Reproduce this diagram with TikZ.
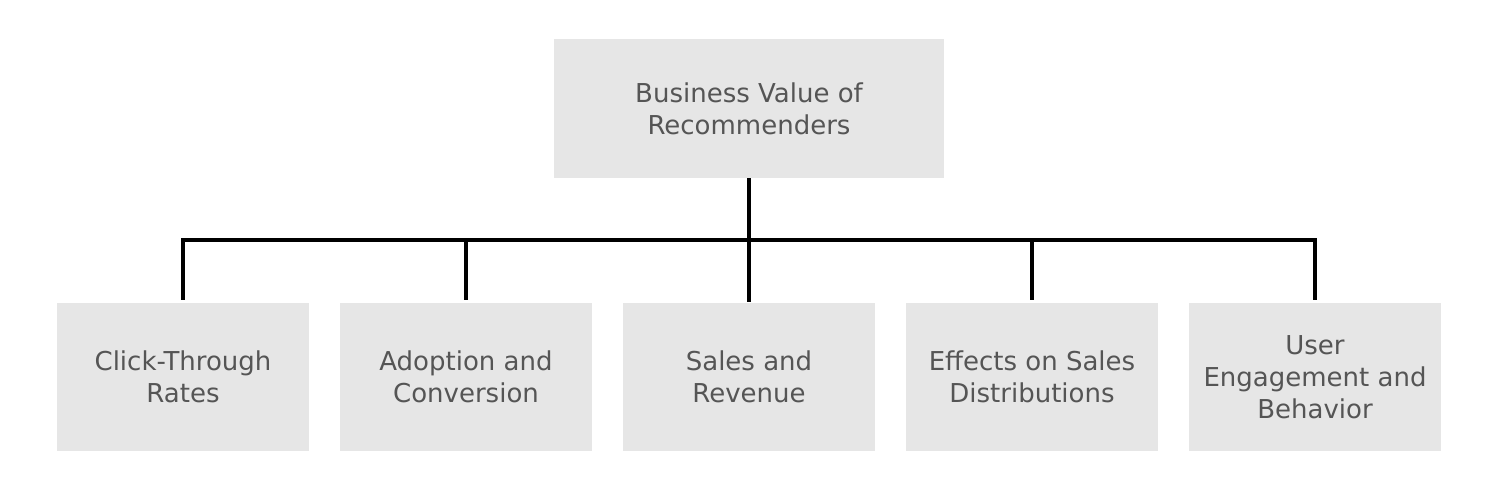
\documentclass[tikz,border=0pt]{standalone}
\usepackage{fontspec}
\setmainfont{DejaVu Sans}
\definecolor{boxgray}{HTML}{E6E6E6}
\definecolor{txtgray}{HTML}{555555}
\begin{document}
\begin{tikzpicture}[x=1pt,y=-1pt,
  box/.style={rectangle, fill=boxgray, draw=none, inner sep=0pt, align=center,
    text=txtgray, font=\fontsize{26}{32}\selectfont},
  rootbox/.style={box, minimum width=390pt, minimum height=139pt},
  leafbox/.style={box, minimum width=252pt, minimum height=148pt},
  conn/.style={line width=4pt, black, line join=miter, line cap=butt}]
\useasboundingbox (0,0) rectangle (1504,484);
\node[rootbox] (root) at (749,108.5) {Business Value of\\Recommenders};
\node[leafbox] (c1) at (183,377) {Click-Through\\Rates};
\node[leafbox] (c2) at (466,377) {Adoption and\\Conversion};
\node[leafbox] (c3) at (749,377) {Sales and\\Revenue};
\node[leafbox] (c4) at (1032,377) {Effects on Sales\\Distributions};
\node[leafbox] (c5) at (1315,377) {User\\Engagement and\\Behavior};
\coordinate (bar) at (749,240);
\draw[conn] (root.south) -- ([yshift=1pt]c3.north);
\draw[conn] ([yshift=3pt]c1.north) |- (bar) -| ([yshift=3pt]c5.north);
\draw[conn] ([yshift=3pt]c2.north) -- (c2.north |- bar);
\draw[conn] ([yshift=3pt]c4.north) -- (c4.north |- bar);
\end{tikzpicture}
\end{document}
